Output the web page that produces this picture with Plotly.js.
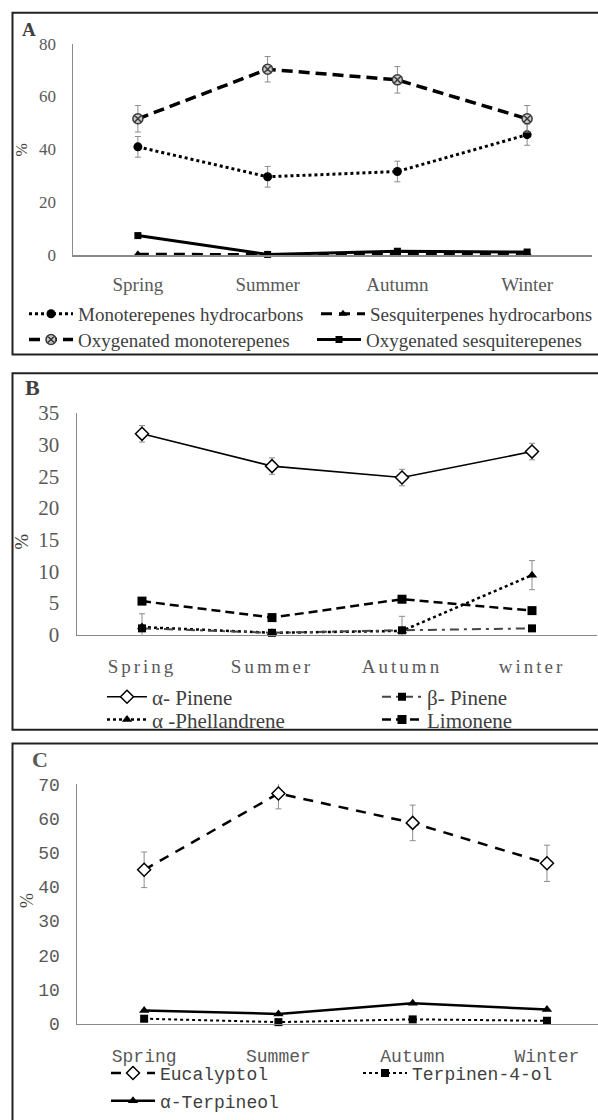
<!DOCTYPE html>
<html><head><meta charset="utf-8">
<script src="https://cdn.plot.ly/plotly-3.0.1.min.js"></script>
<style>
html,body{margin:0;padding:0;background:#fff;}
#chart{width:598px;height:1120px;}
.x2tick text{letter-spacing:3px;}
</style>
</head><body><div id="chart"></div>
<script>
// ---------- data ----------
const seasonsA = ['Spring', 'Summer', 'Autumn', 'Winter'];
const seasonsB = ['Spring', 'Summer', 'Autumn', 'winter'];
const seasonsC = ['Spring', 'Summer', 'Autumn', 'Winter'];

const monoHydro = [41.0, 29.7, 31.7, 45.6];
const monoHydroErr = [3.9, 3.9, 3.9, 4.0];
const sesquiHydro = [0.5, 0.3, 0.6, 0.8];
const oxyMono = [51.6, 70.3, 66.3, 51.6];
const oxyMonoErr = [5.0, 4.8, 5.0, 5.0];
const oxySesqui = [7.5, 0.4, 1.6, 1.3];

const aPinene = [31.7, 26.6, 24.8, 28.9];
const aPineneErr = [1.3, 1.3, 1.3, 1.3];
const bPinene = [1.0, 0.3, 0.7, 1.0];
const aPhell = [1.2, 0.3, 0.6, 9.4];
const aPhellErr = [2.1, 0.2, 2.3, 2.3];
const limonene = [5.3, 2.7, 5.6, 3.8];

const eucalyptol = [45.0, 67.3, 58.7, 46.9];
const eucalyptolErr = [5.2, 4.5, 5.2, 5.3];
const terpinen4ol = [1.5, 0.5, 1.3, 0.9];
const aTerpineol = [3.9, 2.9, 6.0, 4.2];

// ---------- helpers ----------
const W = 598, H = 1120;
const px = v => v / W;
const py = v => 1 - v / H;
const ERR = '#8c8c8c';
const SERIF = 'Liberation Serif, Times New Roman, serif';
const MONO = 'Liberation Mono, Courier New, monospace';

const fA = {family: SERIF, size: 17, color: '#595959'};
const fAx = {family: SERIF, size: 19, color: '#595959'};
const fB = {family: SERIF, size: 21, color: '#595959'};
const fBx = {family: SERIF, size: 19, color: '#595959'};
const fC = {family: MONO, size: 18, color: '#595959'};
const lA = {family: SERIF, size: 19, color: '#404040'};
const lB = {family: SERIF, size: 21, color: '#404040'};
const lC = {family: MONO, size: 18, color: '#404040'};

const legends = {};
let legCount = 0;
// one legend per entry: text start x (px), row centre y (px), symbol length (px)
function legendFor(textX, rowY, font, symW) {
  legCount += 1;
  const key = legCount === 1 ? 'legend' : 'legend' + legCount;
  legends[key] = {x: px(textX - symW - 10), y: py(rowY), xanchor: 'left', yanchor: 'middle', orientation: 'h',
    itemwidth: symW, font: font, bgcolor: 'rgba(0,0,0,0)', borderwidth: 0,
    itemclick: false, itemdoubleclick: false};
  return key;
}

function tr(x, y, name, ax, leg, line, marker, err) {
  const t = {
    type: 'scatter', mode: 'lines+markers', x: x, y: y, name: name,
    xaxis: 'x' + ax, yaxis: 'y' + ax, legend: leg,
    line: line, marker: marker, cliponaxis: false, hoverinfo: 'skip'
  };
  if (err) t.error_y = {type: 'data', array: err, visible: true, color: ERR, thickness: 1, width: 3};
  return t;
}

const traces = [
  // Panel A
  tr(seasonsA, sesquiHydro, 'Sesquiterpenes hydrocarbons', '', legendFor(370, 317, lA, 44),
     {color: '#000', width: 3, dash: '11px,7px'}, {symbol: 'triangle-up', size: 8, color: '#000'}),
  tr(seasonsA, oxySesqui, 'Oxygenated sesquiterepenes', '', legendFor(366, 343, lA, 44),
     {color: '#000', width: 3}, {symbol: 'square', size: 7, color: '#000'}),
  tr(seasonsA, monoHydro, 'Monoterepenes hydrocarbons', '', legendFor(78, 317, lA, 44),
     {color: '#000', width: 3, dash: 'dot'}, {symbol: 'circle', size: 9, color: '#000'}, monoHydroErr),
  tr(seasonsA, oxyMono, 'Oxygenated monoterepenes', '', legendFor(78, 343, lA, 44),
     {color: '#000', width: 3.5, dash: '11px,6px'}, {symbol: 'circle-x', size: 10, color: '#c8c8c8', line: {color: '#3a3a3a', width: 1.5}}, oxyMonoErr),
  // Panel B
  tr(seasonsB, aPinene, 'α- Pinene', '2', legendFor(152, 704, lB, 40),
     {color: '#000', width: 1.6}, {symbol: 'diamond', size: 10, color: '#fff', line: {color: '#000', width: 1.5}}, aPineneErr),
  tr(seasonsB, aPhell, 'α -Phellandrene', '2', legendFor(152, 727, lB, 40),
     {color: '#000', width: 2.5, dash: 'dot'}, {symbol: 'triangle-up', size: 9, color: '#000'}, aPhellErr),
  tr(seasonsB, limonene, 'Limonene', '2', legendFor(427, 727, lB, 40),
     {color: '#000', width: 2.5, dash: '9px,5px'}, {symbol: 'square', size: 9, color: '#000'}),
  tr(seasonsB, bPinene, 'β- Pinene', '2', legendFor(427, 704, lB, 40),
     {color: '#444', width: 2, dash: '9px,5px,3px,5px'}, {symbol: 'square', size: 8, color: '#000'}),
  // Panel C
  tr(seasonsC, eucalyptol, 'Eucalyptol', '3', legendFor(160, 1084, lC, 44),
     {color: '#000', width: 2.5, dash: '10px,8px'}, {symbol: 'diamond', size: 10, color: '#fff', line: {color: '#000', width: 1.5}}, eucalyptolErr),
  tr(seasonsC, terpinen4ol, 'Terpinen-4-ol', '3', legendFor(412, 1084, lC, 44),
     {color: '#000', width: 2, dash: 'dot'}, {symbol: 'square', size: 8, color: '#000'}),
  tr(seasonsC, aTerpineol, 'α-Terpineol', '3', legendFor(160, 1112, lC, 44),
     {color: '#000', width: 2.5}, {symbol: 'triangle-up', size: 9, color: '#000'})
];

function xa(anchor, domain, range, font, standoff) {
  return {anchor: anchor, domain: domain, range: range, type: 'category', showline: true, linecolor: '#8a8a8a', linewidth: 1.5,
    ticks: '', showgrid: false, zeroline: false, tickfont: font, ticklabelstandoff: standoff, fixedrange: true};
}
function ya(anchor, domain, range, dtick, font, standoff) {
  return {anchor: anchor, domain: domain, range: range, dtick: dtick, showline: true, linecolor: '#8a8a8a', linewidth: 1.5,
    ticks: '', showgrid: false, zeroline: false, tickfont: font, ticklabelstandoff: standoff, fixedrange: true};
}
function ann(text, x, y, font, angle) {
  return {text: text, xref: 'paper', yref: 'paper', x: px(x), y: py(y), xanchor: 'center', yanchor: 'middle',
    showarrow: false, textangle: angle || 0, font: font};
}

const layout = Object.assign({
  width: W, height: H, margin: {l: 0, r: 0, t: 0, b: 0},
  paper_bgcolor: '#fff', plot_bgcolor: 'rgba(0,0,0,0)', showlegend: true,
  xaxis: xa('y', [px(73), px(592)], [-0.5, 3.5], fAx, 11),
  yaxis: ya('x', [py(258), py(44)], [0, 80], 20, fA, 12),
  xaxis2: xa('y2', [px(77), px(597)], [-0.5, 3.5], fBx, 14),
  yaxis2: ya('x2', [py(641), py(417)], [0, 35], 5, fB, 12),
  xaxis3: xa('y3', [px(77), 1], [-0.5, 3.38], fC, 15),
  yaxis3: ya('x3', [py(1034), py(792)], [0, 70], 10, fC, 12),
  shapes: [
    {type: 'rect', xref: 'paper', yref: 'paper', x0: px(12.5), x1: px(620), y0: py(358), y1: py(13), line: {color: '#222', width: 2}},
    {type: 'rect', xref: 'paper', yref: 'paper', x0: px(12.5), x1: px(620), y0: py(737), y1: py(377), line: {color: '#222', width: 2}},
    {type: 'rect', xref: 'paper', yref: 'paper', x0: px(12.5), x1: px(620), y0: py(1140), y1: py(751), line: {color: '#222', width: 2}}
  ],
  annotations: [
    ann('<b>A</b>', 29, 30, {family: SERIF, size: 19, color: '#404040'}),
    ann('<b>B</b>', 32, 391, {family: SERIF, size: 22, color: '#404040'}),
    ann('<b>C</b>', 40, 767, {family: SERIF, size: 22, color: '#595959'}),
    ann('%', 22, 152, {family: SERIF, size: 16, color: '#404040'}, -90),
    ann('%', 22, 547, {family: SERIF, size: 19, color: '#404040'}, -90),
    ann('%', 27, 910, {family: SERIF, size: 18, color: '#404040'}, -90)
  ]
}, legends);

Plotly.newPlot('chart', traces, layout, {staticPlot: true, displayModeBar: false});
</script>
</body></html>
